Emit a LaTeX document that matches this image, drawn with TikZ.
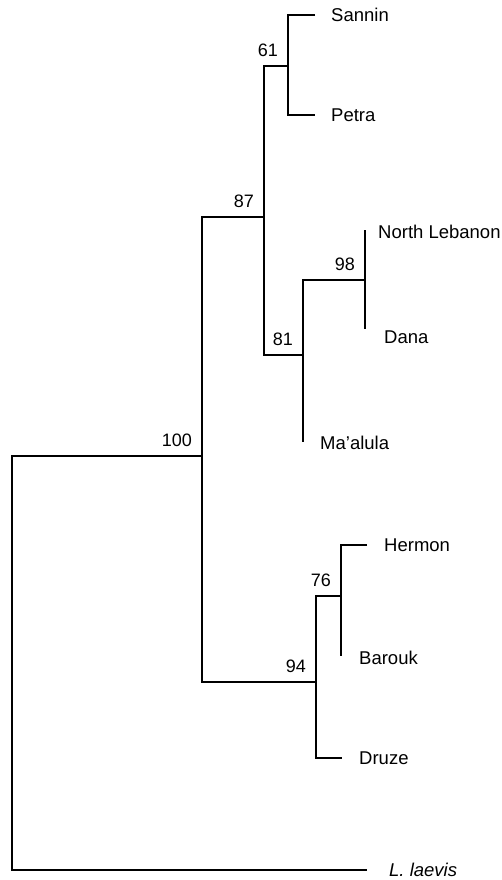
\documentclass[tikz,border=0pt]{standalone}
\usepackage{fontspec}
\setmainfont{Liberation Sans}
\usepackage{tikz}
\usetikzlibrary{positioning}

\begin{document}
\begin{tikzpicture}[x=1pt,y=-1pt,line width=2.4pt,line join=miter,
  taxon/.style={anchor=west,inner sep=0pt,font=\fontsize{18.5}{22}\selectfont},
  boot/.style={anchor=south east,inner sep=0pt,xshift=-9pt,yshift=8pt,font=\fontsize{18}{21}\selectfont}]
\useasboundingbox (0,0) rectangle (502,880);

\coordinate (sannin) at (315,15);
\coordinate (petra) at (315,115);
\coordinate (nleb) at (365,230);
\coordinate (dana) at (365,329);
\coordinate (maalula) at (303,442);
\coordinate (hermon) at (367,545);
\coordinate (barouk) at (341,656);
\coordinate (druze) at (342,758);
\coordinate (laevis) at (367,870);

\coordinate (n61) at (288,66);
\coordinate (n98) at (365,280);
\coordinate (n81) at (303,355);
\coordinate (n87) at (264,217);
\coordinate (n76) at (341,596);
\coordinate (n94) at (316,682);
\coordinate (n100) at (202,456);
\coordinate (root) at (12,456);

\draw (sannin) -| (n61) |- (petra);
\draw (nleb) -- (n98) -- (dana);
\draw (n98) -| (n81) |- (maalula);
\draw (n61) -| (n87) |- (n81);
\draw (hermon) -| (n76) |- (barouk);
\draw (n76) -| (n94) |- (druze);
\draw (n87) -| (n100) |- (n94);
\draw (n100) -- (root) |- (laevis);

\node[taxon, right=15pt of sannin] (lsannin) {Sannin};
\node[taxon, right=15pt of petra] (lpetra) {Petra};
\node[taxon, right=12pt of nleb, yshift=-2pt] (lnleb) {North Lebanon};
\node[taxon, right=18pt of dana, yshift=-8pt] (ldana) {Dana};
\node[taxon, right=16pt of maalula, yshift=-1pt] (lmaalula) {Ma’alula};
\node[taxon, right=16pt of hermon] (lhermon) {Hermon};
\node[taxon, right=17pt of barouk, yshift=-2pt] (lbarouk) {Barouk};
\node[taxon, right=16pt of druze] (ldruze) {Druze};
\node[taxon, right=21pt of laevis] (llaevis) {\itshape L. laevis};

\node[boot] (b61) at (n61) {61};
\node[boot] (b98) at (n98) {98};
\node[boot] (b81) at (n81) {81};
\node[boot] (b87) at (n87) {87};
\node[boot] (b76) at (n76) {76};
\node[boot] (b94) at (n94) {94};
\node[boot] (b100) at (n100) {100};
\end{tikzpicture}
\end{document}
